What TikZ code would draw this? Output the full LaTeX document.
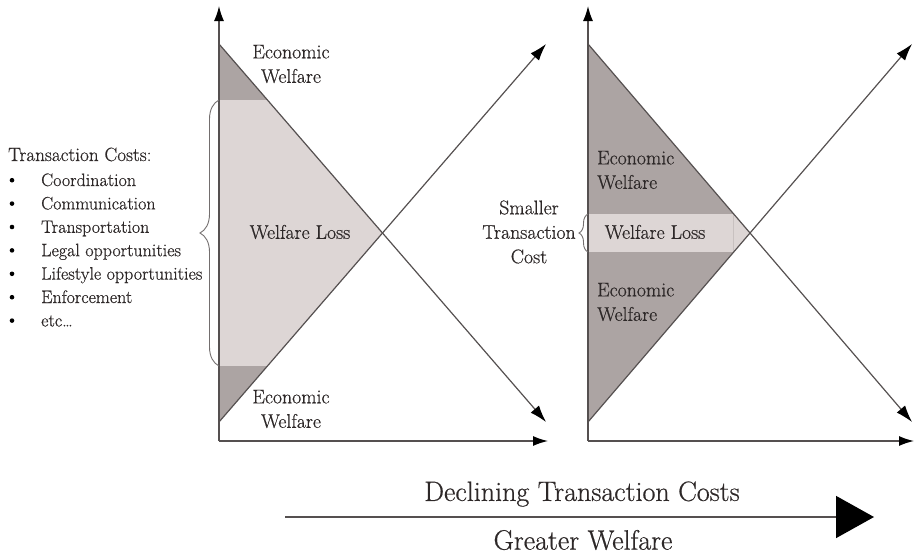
\documentclass[tikz,border=0pt]{standalone}
\usepackage{fontspec}
\setmainfont{Latin Modern Roman}[FakeBold=0.6, UprightFeatures={FakeBold=0.6}]
\usetikzlibrary{arrows.meta,decorations.pathreplacing}
\definecolor{welfare}{RGB}{172,164,163}
\definecolor{loss}{RGB}{221,214,213}
\definecolor{edge}{RGB}{200,193,192}
\definecolor{axisgray}{RGB}{85,80,80}
\definecolor{bracegray}{RGB}{115,110,110}
\definecolor{txt}{RGB}{45,40,40}
\tikzset{
  axisline/.style={draw=axisgray, line width=1.4pt, -{Latex[length=15pt,width=10pt,color=black]}},
  curveline/.style={draw=axisgray, line width=1.2pt, -{Latex[length=17pt,width=11pt,color=black]}},
  bigarrow/.style={draw=axisgray, line width=1.5pt, -{Triangle[length=38pt,width=42pt,color=black]}},
  lbl/.style={font=\fontsize{19.8}{24.5}\selectfont, text=txt, inner sep=0pt, align=center},
  lbll/.style={lbl, align=left},
  listtxt/.style={font=\fontsize{18}{23.4}\selectfont, text=txt, inner sep=0pt, anchor=base west},
  listhead/.style={listtxt, font=\fontsize{19.2}{23.4}\selectfont},
  bulletdot/.style={circle, fill=black, inner sep=0pt, minimum size=4.6pt},
  caption/.style={font=\fontsize{28}{32}\selectfont, text=txt, inner sep=0pt},
  curly/.style={draw=bracegray, line width=0.9pt, decorate, decoration={brace, amplitude=#1}},
}
\begin{document}
\begin{tikzpicture}[x=1pt, y=-1pt]
\useasboundingbox (0,0) rectangle (917,554);

% ---------- left diagram ----------
\coordinate (L0)  at (219,441);
\coordinate (Ly)  at (219,6);
\coordinate (Lx)  at (548,441);
\coordinate (Lt)  at (219,44);
\coordinate (Lb)  at (219,422);
\coordinate (Ldn) at (546,422);
\coordinate (Lup) at (546,44);
\coordinate (Lc)  at (382.5,233);
\coordinate (Lu1) at (219,100);
\coordinate (Lu2) at (267.4,100);
\coordinate (Ll1) at (219,366);
\coordinate (Ll2) at (267.4,366);

\fill[welfare] (Lt) -- (Lu2) -- (Lu1) -- cycle;
\fill[loss] (Lu1) -- (Lu2) -- (Lc) -- (Ll2) -- (Ll1) -- cycle;
\fill[welfare] (Ll1) -- (Ll2) -- (Lb) -- cycle;

\draw[curveline] (Lt) -- (Ldn);
\draw[curveline] (Lb) -- (Lup);
\draw[axisline] (L0) -- (Ly);
\draw[axisline] (L0) -- (Lx);

\draw[curly=19pt] (Ll1) -- (Lu1);

\node[lbl] (lTop) at (291,64) {Economic\\Welfare};
\node[lbl] (lLoss) at (300,232) {Welfare Loss};
\node[lbl] (lBot) at (291,409) {Economic\\Welfare};

% list of transaction costs
\node[listhead] (tcHead) at (8,161) {Transaction Costs:};
\foreach \y/\t [count=\i] in {186/Coordination, 209.4/Communication, 232.8/Transportation,
    256.2/Legal opportunities, 279.6/Lifestyle opportunities, 303/Enforcement, 326.4/{etc\ldots}}{
  \node[bulletdot] (b\i) at (12,\y-5.8) {};
  \node[listtxt] (item\i) at (41,\y) {\t};
}

% ---------- right diagram ----------
\coordinate (R0)  at (588,441);
\coordinate (Ry)  at (588,6);
\coordinate (Rx)  at (914,441);
\coordinate (Rt)  at (588,44);
\coordinate (Rb)  at (588,422);
\coordinate (Rdn) at (912,422);
\coordinate (Rup) at (912,44);
\coordinate (Rc)  at (750,233);
\coordinate (Ru1) at (588,214);
\coordinate (Ru2) at (733.7,214);
\coordinate (Rl1) at (588,252);
\coordinate (Rl2) at (733.7,252);

\fill[welfare] (Rt) -- (Ru2) -- (Ru1) -- cycle;
\fill[loss] (Ru1) -- (Ru2) -- (Rc) -- (Rl2) -- (Rl1) -- cycle;
\fill[welfare] (Rl1) -- (Rl2) -- (Rb) -- cycle;
\draw[edge, line width=0.7pt] (Ru2) -- (Rl2);

\draw[curveline] (Rt) -- (Rdn);
\draw[curveline] (Rb) -- (Rup);
\draw[axisline] (R0) -- (Ry);
\draw[axisline] (R0) -- (Rx);

\draw[curly=9pt] (Rl1) -- (Ru1);

\node[lbll, anchor=west] (rTop) at (597,170) {Economic\\Welfare};
\node[lbl] (rLoss) at (655,232) {Welfare Loss};
\node[lbll, anchor=west] (rBot) at (597,302) {Economic\\Welfare};
\node[lbl] (rCost) at (529,232) {Smaller\\Transaction\\Cost};

% ---------- trend arrow ----------
\coordinate (tA) at (285,517);
\coordinate (tB) at (874,517);
\draw[bigarrow] (tA) -- (tB);
\node[caption] (decl) at (582,494) {Declining Transaction Costs};
\node[caption] (greater) at (583,540) {Greater Welfare};
\end{tikzpicture}
\end{document}
